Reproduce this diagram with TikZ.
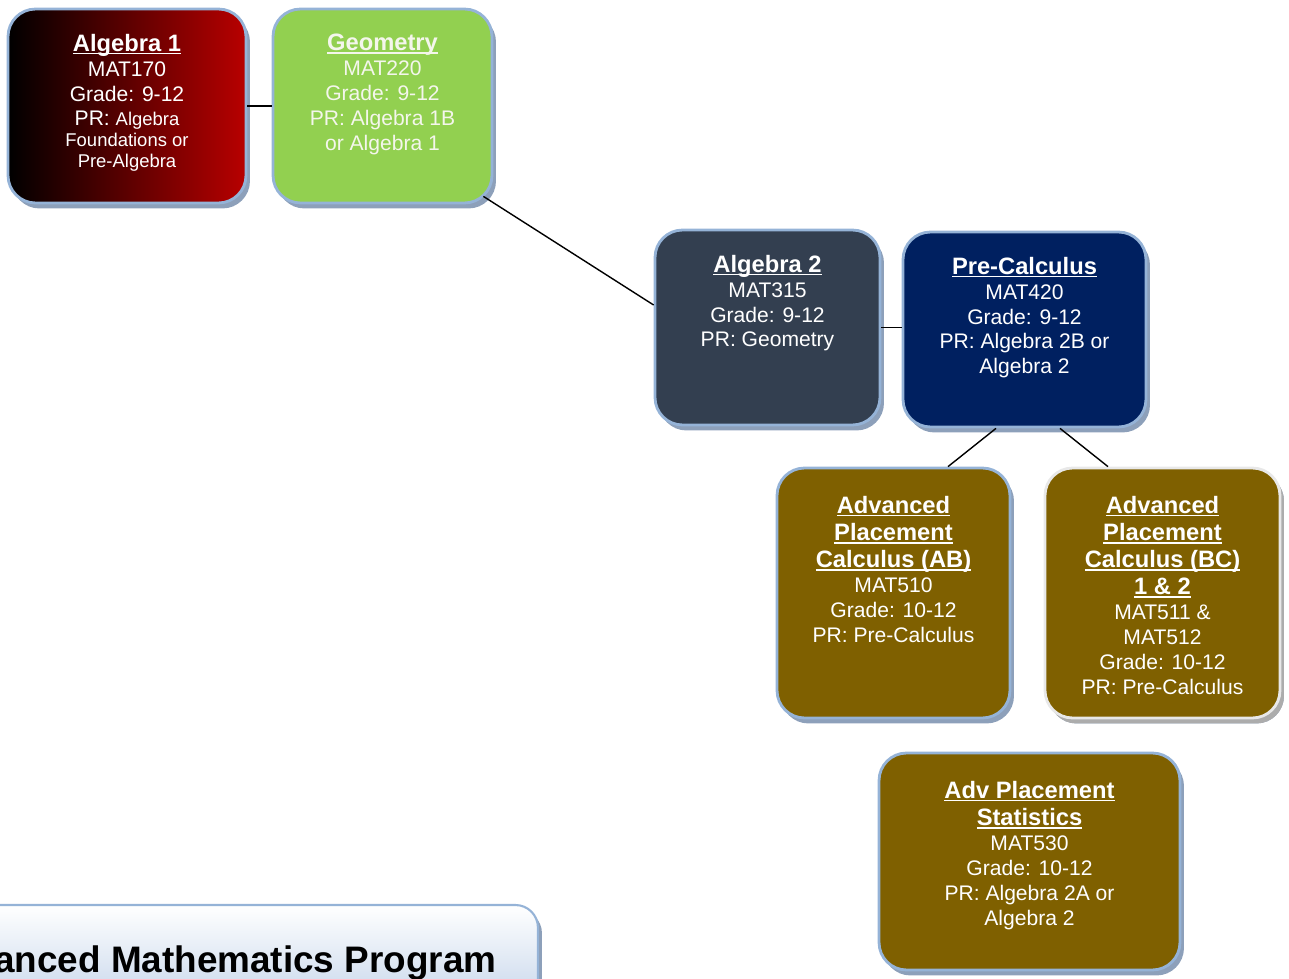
\documentclass[tikz,border=0pt]{standalone}
\usepackage{fontspec}
\setmainfont{Liberation Sans}
\usetikzlibrary{shadows}

\definecolor{rimblue}{RGB}{149,179,215}
\definecolor{rimgrey}{RGB}{232,232,232}
\definecolor{shadowblue}{RGB}{141,160,186}
\definecolor{algred}{RGB}{184,0,0}
\definecolor{geomgreen}{RGB}{146,208,80}
\definecolor{slate}{RGB}{51,63,80}
\definecolor{navy}{RGB}{0,32,96}
\definecolor{apbrown}{RGB}{127,96,0}
\definecolor{paleblue}{RGB}{190,208,232}

\newcommand{\ttl}[1]{{\fontsize{13.5}{15.6}\selectfont\bfseries\setbox0\hbox{#1}\rlap{\rule[-1.9pt]{\wd0}{1.1pt}}\box0}}
\newcommand{\sm}[1]{{\fontsize{10.5}{12}\selectfont #1}}

\tikzset{
	course/.style={draw=rimblue, line width=1.6pt, rounded corners=0.55cm,
		drop shadow={shadow xshift=0.08cm, shadow yshift=-0.11cm, fill=shadowblue, opacity=1}},
	info/.style={text=white, align=center, inner sep=0pt, anchor=north, font=\fontsize{12}{14.2}\selectfont},
	link/.style={draw=black, line width=0.8pt}
}

\begin{document}
\begin{tikzpicture}[x=0.02cm,y=-0.02cm]
		\useasboundingbox (0,0) rectangle (1289,979);
		\clip (0,0) rectangle (1289,979);
		% course boxes
		\node[course, minimum width=4.76cm, minimum height=3.88cm, left color=black, right color=algred] (alg1) at (127,106) {};
		\node[course, minimum width=4.38cm, minimum height=3.88cm, fill=geomgreen] (geom) at (382.5,106) {};
		\node[course, minimum width=4.50cm, minimum height=3.90cm, fill=slate] (alg2) at (767.5,327.5) {};
		\node[course, minimum width=4.86cm, minimum height=3.90cm, fill=navy] (prec) at (1024.5,329.5) {};
		\node[course, minimum width=4.66cm, minimum height=5.00cm, fill=apbrown] (calcab) at (893.5,593) {};
		\node[course, draw=rimgrey, drop shadow={shadow xshift=0.08cm, shadow yshift=-0.11cm, fill=gray!65, opacity=1},
			minimum width=4.70cm, minimum height=5.00cm, fill=apbrown] (calcbc) at (1162.5,593) {};
		\node[course, minimum width=6.02cm, minimum height=4.34cm, fill=apbrown] (stats) at (1029.5,861.5) {};
		% program title
		\node[course, line width=1.2pt, rounded corners=0.45cm, top color=white, bottom color=paleblue, minimum width=13.1cm, minimum height=2.32cm,
			font=\fontsize{21}{25}\selectfont\bfseries] (prog) at (210.5,963) {Advanced Mathematics Program};
		% texts
		\node[info] (alg1txt) at ([yshift=-0.52cm]alg1.north) {\ttl{Algebra 1}\\MAT170\\Grade: 9-12\\PR: \sm{Algebra}\\[-2.5pt]\sm{Foundations or}\\[-2.5pt]\sm{Pre-Algebra}};
		\node[info, text={rgb,255:red,244;green,246;blue,236}] (geomtxt) at ([yshift=-0.52cm]geom.north) {\ttl{Geometry}\\MAT220\\Grade: 9-12\\PR: Algebra 1B\\or Algebra 1};
		\node[info] (alg2txt) at ([yshift=-0.52cm]alg2.north) {\ttl{Algebra 2}\\MAT315\\Grade: 9-12\\PR: Geometry};
		\node[info] (prectxt) at ([yshift=-0.52cm]prec.north) {\ttl{Pre-Calculus}\\MAT420\\Grade: 9-12\\PR: Algebra 2B or\\Algebra 2};
		\node[info] (calcabtxt) at ([yshift=-0.58cm]calcab.north) {\ttl{Advanced}\\[1.3pt]\ttl{Placement}\\[1.3pt]\ttl{Calculus (AB)}\\MAT510\\Grade: 10-12\\PR: Pre-Calculus};
		\node[info] (calcbctxt) at ([yshift=-0.58cm]calcbc.north) {\ttl{Advanced}\\[1.3pt]\ttl{Placement}\\[1.3pt]\ttl{Calculus (BC)}\\[1.3pt]\ttl{1 \& 2}\\MAT511 \&\\MAT512\\Grade: 10-12\\PR: Pre-Calculus};
		\node[info] (statstxt) at ([yshift=-0.58cm]stats.north) {\ttl{Adv Placement}\\[1.3pt]\ttl{Statistics}\\MAT530\\Grade: 10-12\\PR: Algebra 2A or\\Algebra 2};
		% connectors
		\draw[link] (alg1.east) -- (geom.west);
		\draw[link] ([shift={(-10,-8)}]geom.south east) -- ([shift={(0,-22.5)}]alg2.west);
		\draw[link] (alg2.east) -- (alg2.east -| prec.west);
		\draw[link] ([shift={(-28.5,0)}]prec.south) -- ([shift={(54.5,0)}]calcab.north);
		\draw[link] ([shift={(35.5,0)}]prec.south) -- ([shift={(-54.5,0)}]calcbc.north);
\end{tikzpicture}
\end{document}
